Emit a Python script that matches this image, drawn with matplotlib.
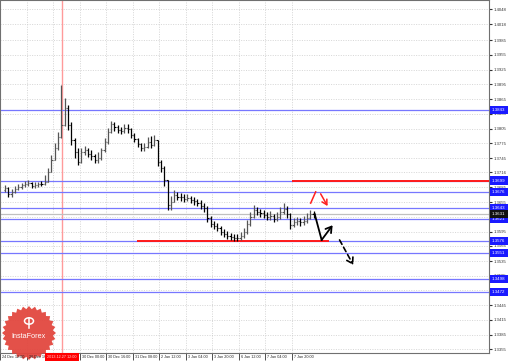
import matplotlib
matplotlib.use('Agg')
import matplotlib.pyplot as plt
from matplotlib.patches import Polygon, Circle
import numpy as np

plt.rcParams['font.family'] = ['Liberation Sans', 'DejaVu Sans']

# ---------------- data ----------------
# bar times in hours relative to 26 Dec 16:00 (2-hour bars)
bar_hours = np.arange(-13, 175, 2)

closes = [1.3684, 1.3672, 1.3676, 1.3682, 1.3686, 1.3690, 1.3692, 1.3694, 1.3688, 1.3690,
          1.3692, 1.3692, 1.3696, 1.3717, 1.3741, 1.3765, 1.3788, 1.3812, 1.3847, 1.3812,
          1.3782, 1.3757, 1.3737, 1.3757, 1.3761, 1.3753, 1.3749, 1.3741, 1.3745, 1.3761,
          1.3778, 1.3798, 1.3814, 1.3808, 1.3802, 1.3800, 1.3806, 1.3804, 1.3792, 1.3784,
          1.3774, 1.3765, 1.3767, 1.3778, 1.3771, 1.3782, 1.3737, 1.3725, 1.3700, 1.3649,
          1.3655, 1.3670, 1.3666, 1.3666, 1.3661, 1.3663, 1.3659, 1.3657, 1.3653, 1.3647,
          1.3643, 1.3623, 1.3610, 1.3606, 1.3602, 1.3594, 1.3590, 1.3586, 1.3584, 1.3582,
          1.3582, 1.3586, 1.3594, 1.3610, 1.3625, 1.3639, 1.3635, 1.3633, 1.3629, 1.3625,
          1.3627, 1.3621, 1.3625, 1.3635, 1.3641, 1.3631, 1.3608, 1.3615, 1.3617, 1.3615,
          1.3617, 1.3623, 1.3631, 1.3631]
highs = [1.3690, 1.3686, 1.3682, 1.3688, 1.3692, 1.3694, 1.3698, 1.3700, 1.3696, 1.3696,
         1.3696, 1.3698, 1.3710, 1.3725, 1.3751, 1.3776, 1.3798, 1.3894, 1.3867, 1.3853,
         1.3818, 1.3786, 1.3765, 1.3765, 1.3769, 1.3765, 1.3761, 1.3753, 1.3757, 1.3765,
         1.3786, 1.3806, 1.3820, 1.3818, 1.3812, 1.3808, 1.3814, 1.3814, 1.3806, 1.3796,
         1.3786, 1.3776, 1.3776, 1.3788, 1.3790, 1.3792, 1.3749, 1.3741, 1.3729, 1.3700,
         1.3667, 1.3680, 1.3676, 1.3674, 1.3672, 1.3672, 1.3667, 1.3665, 1.3661, 1.3659,
         1.3653, 1.3647, 1.3627, 1.3617, 1.3612, 1.3606, 1.3600, 1.3596, 1.3592, 1.3590,
         1.3590, 1.3594, 1.3602, 1.3619, 1.3635, 1.3649, 1.3645, 1.3641, 1.3639, 1.3635,
         1.3637, 1.3631, 1.3635, 1.3645, 1.3653, 1.3647, 1.3633, 1.3623, 1.3625, 1.3623,
         1.3627, 1.3633, 1.3639, 1.3637]
lows = [1.3676, 1.3665, 1.3665, 1.3674, 1.3680, 1.3682, 1.3686, 1.3688, 1.3684, 1.3684,
        1.3686, 1.3688, 1.3690, 1.3700, 1.3717, 1.3741, 1.3761, 1.3786, 1.3810, 1.3802,
        1.3771, 1.3745, 1.3731, 1.3735, 1.3751, 1.3747, 1.3741, 1.3735, 1.3735, 1.3741,
        1.3757, 1.3774, 1.3796, 1.3800, 1.3796, 1.3794, 1.3796, 1.3796, 1.3786, 1.3778,
        1.3767, 1.3759, 1.3759, 1.3765, 1.3765, 1.3769, 1.3729, 1.3717, 1.3688, 1.3639,
        1.3639, 1.3659, 1.3659, 1.3657, 1.3655, 1.3657, 1.3653, 1.3649, 1.3647, 1.3641,
        1.3635, 1.3615, 1.3604, 1.3600, 1.3596, 1.3588, 1.3584, 1.3580, 1.3578, 1.3576,
        1.3576, 1.3578, 1.3582, 1.3590, 1.3606, 1.3623, 1.3629, 1.3625, 1.3623, 1.3619,
        1.3619, 1.3615, 1.3617, 1.3621, 1.3631, 1.3623, 1.3600, 1.3604, 1.3608, 1.3606,
        1.3608, 1.3612, 1.3621, 1.3623]
first_open = 1.3680

x_tick_hours = [-16, 0, 16, 32, 48, 64, 80, 96, 112, 128, 144, 160]
x_tick_labels = ["24 Dec 12:00", "26 Dec 16:00", "27 Dec 08:00", "30 Dec 00:00",
                 "30 Dec 16:00", "31 Dec 08:00", "2 Jan 12:00", "3 Jan 04:00",
                 "3 Jan 20:00", "6 Jan 12:00", "7 Jan 04:00", "7 Jan 20:00"]
y_ticks = [1.4048, 1.4018, 1.3985, 1.3955, 1.3925, 1.3895, 1.3865, 1.3835, 1.3805,
           1.3775, 1.3745, 1.3716, 1.3685, 1.3655, 1.3625, 1.3595, 1.3566, 1.3535,
           1.3505, 1.3475, 1.3445, 1.3415, 1.3385, 1.3355]

blue_levels = [1.3843, 1.3699, 1.3676, 1.3643, 1.3621, 1.3576, 1.3551, 1.3498, 1.3472]
current_price = 1.3631
red_upper = (160.0, 278.8, 1.3699)
red_lower = (66.3, 182.1, 1.3576)
marker_hour = 21.5
marker_label = "2013.12.27 12:00"

red_stroke = [(171.3, 1.3653), (174.3, 1.3676)]
red_arrow = [(177.3, 1.3672), (181.5, 1.3647)]
black_zig = [(173.7, 1.3631), (177.9, 1.3578), (184.5, 1.3608)]
dashed_arrow = [(188.7, 1.3578), (197.0, 1.3527)]

# ---------------- figure ----------------
W, H = 510, 362
fig = plt.figure(figsize=(W / 100, H / 100), dpi=100)
fig.patch.set_facecolor('white')
ax = fig.add_axes([0, (H - 353) / H, 489 / W, 353 / H])
ax.set_xlim(-13.13, 278.8)
ax.set_ylim(1.33476, 1.4067)

# grid
for yt in y_ticks:
    ax.axhline(yt, color='#c8c8c8', lw=0.5, ls=(0, (1.5, 2)), zorder=0)
for xt in x_tick_hours:
    ax.axvline(xt, color='#c8c8c8', lw=0.5, ls=(0, (1.5, 2)), zorder=0)

# vertical marker line
ax.axvline(marker_hour, color='#ff9a9a', lw=1.0, zorder=1)

# level lines
for lv in blue_levels:
    ax.axhline(lv, color='#7777ff', lw=0.9, zorder=2)
ax.axhline(current_price, color='#c0c0c0', lw=0.9, zorder=2)
ax.hlines(red_upper[2], red_upper[0], red_upper[1], color='#ff1a1a', lw=1.4, zorder=3)
ax.hlines(red_lower[2], red_lower[0], red_lower[1], color='#ff1a1a', lw=1.4, zorder=3)

# OHLC bars
opens = [first_open] + closes[:-1]
for h, o, hi, lo, c in zip(bar_hours, opens, highs, lows, closes):
    col = '#000000' if c <= o else '#555555'
    top = max(hi, o, c)
    bot = min(lo, o, c)
    ax.vlines(h, bot, top, color=col, lw=0.9, zorder=4)
    ax.hlines(o, h - 0.7, h, color=col, lw=0.8, zorder=4)
    ax.hlines(c, h, h + 0.7, color=col, lw=0.8, zorder=4)

# annotations
ax.plot(*zip(*red_stroke), color='#ff2020', lw=1.1, zorder=6)
ax.annotate('', xy=red_arrow[1], xytext=red_arrow[0],
            arrowprops=dict(arrowstyle='->,head_length=0.35,head_width=0.2',
                            color='#ff2020', lw=1.1, shrinkA=0, shrinkB=0), zorder=6)
ax.plot(*zip(*black_zig[:2]), color='black', lw=1.3, zorder=6)
ax.annotate('', xy=black_zig[2], xytext=black_zig[1],
            arrowprops=dict(arrowstyle='->,head_length=0.4,head_width=0.25',
                            color='black', lw=1.3, shrinkA=0, shrinkB=0), zorder=6)
ax.annotate('', xy=dashed_arrow[1], xytext=dashed_arrow[0],
            arrowprops=dict(arrowstyle='->,head_length=0.4,head_width=0.25',
                            color='black', lw=1.2, ls=(0, (3, 2)),
                            shrinkA=0, shrinkB=0), zorder=6)

# axes styling
for s in ax.spines.values():
    s.set_color('#707070')
    s.set_linewidth(0.8)
ax.yaxis.tick_right()
ax.set_yticks(y_ticks)
ax.set_yticklabels([f"{v:.4f}" for v in y_ticks])
ax.tick_params(axis='y', which='both', labelsize=3.1, length=2, pad=1.5,
               colors='#333333', direction='out')
ax.set_xticks(x_tick_hours)
ax.set_xticklabels([])
ax.tick_params(axis='x', length=5, direction='out', colors='#333333', width=0.6)

# x labels (left aligned beside tick)
xtr = ax.get_xaxis_transform()
for xt, lab in zip(x_tick_hours, x_tick_labels):
    ax.text(xt + 1.2, -0.011, lab, transform=xtr, fontsize=2.7, ha='left', va='center',
            color='#222222', clip_on=False, zorder=11)

# marker date box
ax.text(marker_hour, -0.011, marker_label, transform=xtr, fontsize=2.7, ha='center',
        va='center', color='#ffd8d8', clip_on=False, zorder=12,
        bbox=dict(boxstyle='square,pad=0.6', fc='#ff0000', ec='none'))

# right-axis level boxes
ytr = ax.get_yaxis_transform()
for lv in blue_levels:
    ax.text(1.006, lv, f"{lv:.4f}", transform=ytr, fontsize=3.2, ha='left', va='center',
            color='white', clip_on=False, zorder=12,
            bbox=dict(boxstyle='square,pad=0.5', fc='#1a1aff', ec='none'))
ax.text(1.006, current_price, f"{current_price:.4f}", transform=ytr, fontsize=3.2,
        ha='left', va='center', color='white', clip_on=False, zorder=12,
        bbox=dict(boxstyle='square,pad=0.5', fc='#111111', ec='none'))

# InstaForex logo (pixel coordinates -> figure fraction)
cx, cy, r_out, r_in, n = 29, 333, 27, 24, 28
ang = np.linspace(0, 2 * np.pi, 2 * n, endpoint=False)
rad = np.where(np.arange(2 * n) % 2 == 0, r_out, r_in)
pts = np.column_stack([(cx + rad * np.cos(ang)) / W, 1 - (cy + rad * np.sin(ang)) / H])
logo = Polygon(pts, closed=True, fc='#e2473f', ec='none', transform=fig.transFigure,
               clip_on=False, zorder=9, alpha=0.95)
ax.add_patch(logo)
ring = Circle((cx / W, 1 - 321 / H), 4.5 / W, fc='none', ec='white', lw=1.1,
              transform=fig.transFigure, clip_on=False, zorder=10)
ax.add_patch(ring)
ax.plot([cx / W, cx / W], [1 - 318 / H, 1 - 328 / H], color='white', lw=1.1,
        transform=fig.transFigure, clip_on=False, zorder=10)
ax.text(cx / W, 1 - 337 / H, 'InstaForex', transform=fig.transFigure, fontsize=5.2,
        color='white', ha='center', va='center', zorder=10, clip_on=False)

fig.savefig('out.png', dpi=100, facecolor='white')
